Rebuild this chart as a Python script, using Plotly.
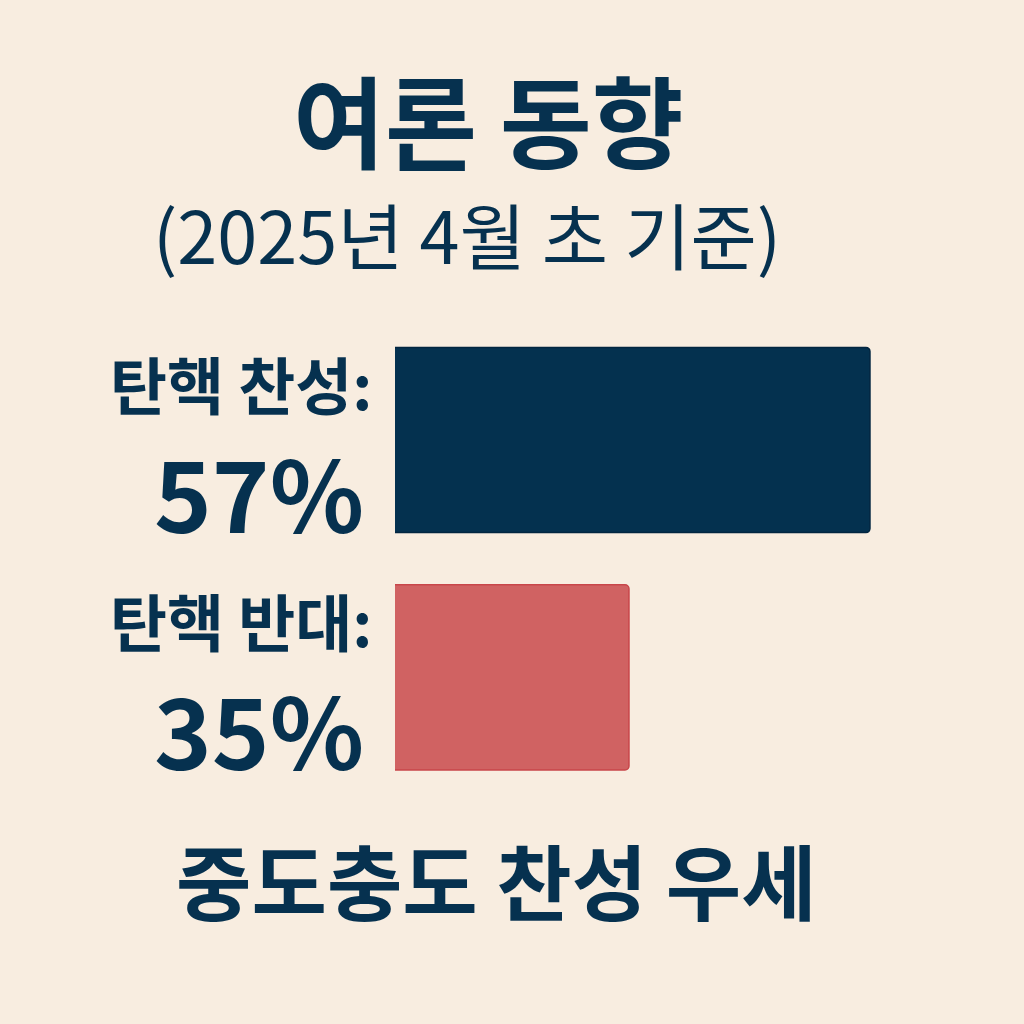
import plotly.graph_objects as go

categories = ["탄핵 찬성", "탄핵 반대"]
values = [57, 35]
bar_colors = ["#04314F", "#D06262"]
line_colors = ["#022640", "#C8464A"]

title_text = "여론 동향"
subtitle_text = "(2025년 4월 초 기준)"
footer_text = "중도충도 찬성 우세"

FONT = "Noto Sans CJK KR"
NAVY = "#06314F"
BG = "#F8EDE0"

fig = go.Figure()
fig.add_trace(go.Bar(
    y=categories, x=values, orientation="h",
    marker=dict(color=bar_colors, line=dict(color=line_colors, width=1.5)),
    width=0.78, hoverinfo="skip",
))

annotations = []
for cat, v in zip(categories, values):
    annotations.append(dict(
        xref="paper", yref="y", x=0, y=cat, xanchor="right", yanchor="middle",
        xshift=-22, yshift=57, showarrow=False, text=f"{cat}:", borderpad=0,
        font=dict(family=FONT, size=62, color=NAVY, weight="bold"),
    ))
    annotations.append(dict(
        xref="paper", yref="y", x=0, y=cat, xanchor="right", yanchor="middle",
        xshift=-30, yshift=-50, showarrow=False, text=f"{v}%", borderpad=0,
        font=dict(family=FONT, size=98, color=NAVY, weight="bold"),
    ))

annotations += [
    dict(xref="paper", yref="paper", x=0.155, y=1.404, xanchor="center", yanchor="middle",
         yshift=7, showarrow=False, text=title_text, borderpad=0,
         font=dict(family=FONT, size=100, color=NAVY, weight="bold")),
    dict(xref="paper", yref="paper", x=0.119, y=1.174, xanchor="center", yanchor="middle",
         yshift=2, showarrow=False, text=subtitle_text, borderpad=0,
         font=dict(family=FONT, size=72, color=NAVY)),
    dict(xref="paper", yref="paper", x=0.167, y=-0.182, xanchor="center", yanchor="middle",
         yshift=4, showarrow=False, text=footer_text, borderpad=0,
         font=dict(family=FONT, size=82, color=NAVY, weight="bold")),
]

fig.update_layout(
    width=1024, height=1024,
    paper_bgcolor=BG, plot_bgcolor=BG,
    margin=dict(l=395, r=24, t=318, b=228),
    showlegend=False,
    barcornerradius=4,
    xaxis=dict(range=[13.64, 68.87], visible=False, fixedrange=True),
    yaxis=dict(autorange="reversed", visible=False, fixedrange=True),
    annotations=annotations,
)

fig.write_html(
    "out.html",
    config={"displayModeBar": False},
    post_script="document.body.style.margin='0';document.body.style.background='#F8EDE0';document.body.style.overflow='hidden';",
)
